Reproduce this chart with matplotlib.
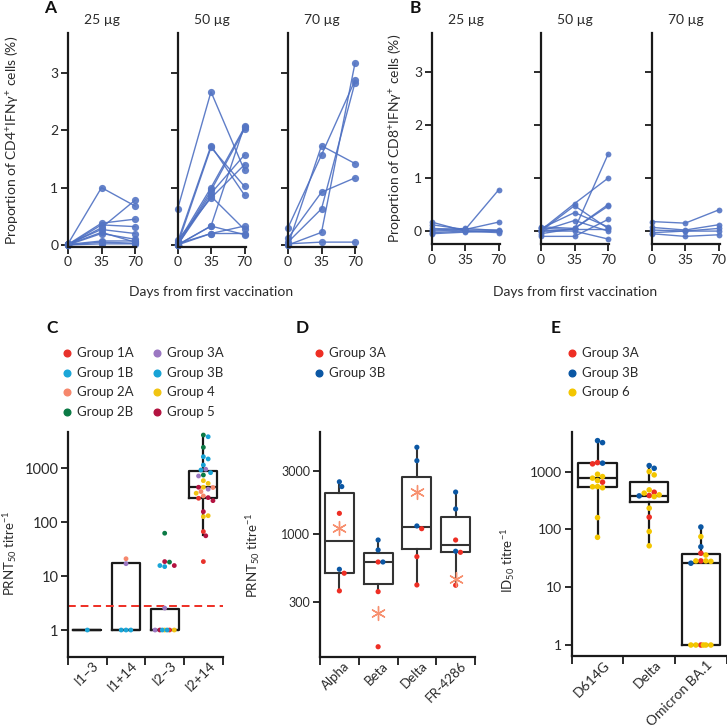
import numpy as np
import matplotlib
matplotlib.use('Agg')
import matplotlib.pyplot as plt
from matplotlib.lines import Line2D
from matplotlib.ticker import NullLocator, FixedLocator
import matplotlib.transforms as mtrans

plt.rcParams['font.family'] = ['Lato', 'DejaVu Sans']
plt.rcParams['mathtext.default'] = 'regular'

# ---------------- data ----------------
days = [0, 35, 70]
doses = ['25 µg', '50 µg', '70 µg']

# Panel A: CD4+ IFNg+ (%) per participant (day 0, day 35, day 70)
cd4_25 = [(0.02, 1.00, 0.68), (0.00, 0.30, 0.78), (0.01, 0.38, 0.45), (0.00, 0.35, 0.32),
          (0.02, 0.27, 0.20), (0.00, 0.20, 0.10), (0.01, 0.07, 0.07), (0.00, 0.05, 0.03),
          (0.00, 0.02, 0.02), (0.01, 0.22, 0.05)]
cd4_50 = [(0.62, 2.67, 1.30), (0.05, 1.73, 0.87), (0.00, 1.70, 1.02), (0.03, 1.00, 2.05),
          (0.00, 0.95, 2.02), (0.00, 0.90, 1.57), (0.00, 0.85, 0.27), (0.08, 0.82, 1.40),
          (0.00, 0.33, 2.08), (0.00, 0.20, 0.33), (0.02, 0.20, 0.20), (0.00, 0.33, 0.18)]
cd4_70 = [(0.30, 1.57, 2.87), (0.00, 1.73, 1.42), (0.12, 0.92, 1.17), (0.05, 0.63, 2.83),
          (0.00, 0.22, 3.17), (0.02, 0.05, 0.05)]

# Panel B: CD8+ IFNg+ (%)
cd8_25 = [(0.17, 0.00, 0.00), (0.12, 0.03, 0.78), (0.05, 0.03, 0.17), (0.00, 0.02, 0.02),
          (-0.03, 0.00, -0.03), (-0.05, -0.02, 0.00), (0.02, 0.05, 0.01)]
cd8_50 = [(0.02, 0.52, 1.00), (0.00, 0.48, 0.05), (0.05, 0.35, 0.08), (0.00, 0.20, 0.00),
          (0.00, 0.03, 1.45), (-0.05, 0.05, 0.47), (0.08, 0.05, 0.50), (-0.10, -0.10, 0.22),
          (0.00, 0.00, -0.15), (0.05, 0.03, 0.03)]
cd8_70 = [(0.18, 0.15, 0.40), (0.07, 0.02, 0.12), (0.02, 0.00, 0.05), (-0.03, 0.00, 0.00),
          (-0.05, -0.10, -0.07)]

# Panel C: PRNT50 titres
c_categories = ['I1–3', 'I1+14', 'I2–3', 'I2+14']
c_i1m3 = [1]
c_i1m3_grp = ['1B']
c_i1p14 = [21, 17, 1, 1, 1]
c_i1p14_grp = ['2A', '3A', '1B', '1B', '3B']
c_i2m3 = [62.5, 18.2, 18.6, 15.7, 15, 15.7, 2.55, 1, 1, 1, 1, 1, 1, 1]
c_i2m3_grp = ['2B', '2B', '5', '1B', '3B', '5', '3A', '4', '1A', '5', '4', '3A', '3B', '1B']
c_i2p14 = [4140, 3850, 2450, 1640, 1490, 1150, 960, 930, 830, 720, 750, 590, 525, 445, 445,
           440, 410, 370, 345, 307, 286, 278, 251, 157, 132, 127, 67, 56, 18.6]
c_i2p14_grp = ['2B', '3B', '2B', '3B', '3B', '3B', '3A', '3B', '3B', '3A', '2B', '4', '4', '4', '5',
               '2A', '3A', '2A', '4', '2A', '5', '1A', '5', '5', '4', '4', '1A', '5', '1A']
c_q1 = [1, 1, 1, 278]
c_med = [1, 1, 1, 445]
c_q3 = [1, 17.3, 2.48, 903]
c_whislo = [1, 1, 1, 58]
c_whishi = [1, 17.3, 2.48, 4100]
c_lod = 2.8
c_groups = ['Group 1A', 'Group 1B', 'Group 2A', 'Group 2B',
            'Group 3A', 'Group 3B', 'Group 4', 'Group 5']

# Panel D: PRNT50 titres against variants
d_categories = ['Alpha', 'Beta', 'Delta', 'FR-4286']
d_3a = [[1430, 499, 366], [608, 361, 137], [1092, 668, 406], [895, 721, 404]]
d_3b = [[2490, 2290, 535], [895, 751, 608], [4570, 3610, 1146], [2080, 1545, 735]]
d_star = [1100, 247, 2090, 449]
d_q1 = [505, 413, 760, 725]
d_med = [880, 608, 1125, 817]
d_q3 = [2040, 716, 2720, 1350]
d_whislo = [366, 361, 406, 404]
d_whishi = [2490, 895, 4570, 2080]

# Panel E: ID50 titres
e_categories = ['D614G', 'Delta', 'Omicron BA.1']
e_3a = [[1430, 1360, 656], [440, 385, 163], [38.7, 28.5, 1]]
e_3b = [[3430, 3170, 1400], [1270, 1140, 380], [110, 50, 26]]
e_6 = [[900, 820, 770, 700, 550, 525, 547, 160, 73],
       [1000, 877, 483, 396, 370, 424, 233, 92, 52],
       [75, 36, 28.5, 28, 28.5, 1, 1, 1, 1, 1]]
e_q1 = [550, 295, 1]
e_med = [790, 385, 26.7]
e_q3 = [1400, 656, 38]
e_whislo = [73, 52, 1]
e_whishi = [3430, 1270, 110]

# ---------------- styles ----------------
grp_colors = {'1A': '#e8322b', '1B': '#1aa6d8', '2A': '#f6876c', '2B': '#0b7a45',
              '3A': '#9b77c2', '3B': '#17a3d6', '4': '#f1c412', '5': '#b31340'}
red = '#ee2e24'
blue = '#0b57a4'
yellow = '#f3c600'
star_c = '#f7906f'
line_blue = '#4e70c2'
BLK = '#1a1a1a'
TXT = '#2a2a2a'
plt.rcParams['text.color'] = TXT
plt.rcParams['xtick.labelcolor'] = TXT
plt.rcParams['ytick.labelcolor'] = TXT

W, H = 727, 728
fig = plt.figure(figsize=(W / 100, H / 100), dpi=100)


def px_axes(l, t, r, b):
    return fig.add_axes([l / W, 1 - b / H, (r - l) / W, (b - t) / H])


def ftext(x, y, s, **kw):
    fig.text(x / W, 1 - y / H, s, **kw)


def style_spines(ax, lw=1.6):
    for s in ['top', 'right']:
        ax.spines[s].set_visible(False)
    for s in ['left', 'bottom']:
        ax.spines[s].set_linewidth(lw)
        ax.spines[s].set_color(BLK)


# ---------------- Panels A & B ----------------
def spaghetti(lefts, top, bottom, ylim, datasets, ms):
    axes = []
    for i, (l, data) in enumerate(zip(lefts, datasets)):
        ax = px_axes(l, top, l + 67 * 71.5 / 70, bottom)
        for subj in data:
            ax.plot(days, subj, color=line_blue, lw=1.0, alpha=0.9, zorder=2,
                    marker='o', ms=ms, mfc=(0.33, 0.46, 0.77, 0.75), mec='none', clip_on=False)
        ax.set_xlim(0, 71.5)
        ax.set_ylim(*ylim)
        ax.set_xticks(days)
        ax.set_yticks([0, 1, 2, 3])
        style_spines(ax)
        ax.tick_params(axis='both', length=5, width=1.3, color=BLK, labelsize=10, pad=2)
        if i > 0:
            ax.set_yticklabels([])
        ax.set_title(doses[i], fontsize=10, pad=7)
        ax.patch.set_alpha(0)
        axes.append(ax)
    return axes


spaghetti([68, 177.5, 288], 33.3, 246.7, (-0.03, 3.69), [cd4_25, cd4_50, cd4_70], 5.2)
spaghetti([431.7, 541, 651.7], 33.3, 244.3, (-0.25, 3.74), [cd8_25, cd8_50, cd8_70], 4.2)

ftext(12, 140, 'Proportion of CD4$^{+}$IFNγ$^{+}$ cells (%)', rotation=90,
      ha='center', va='center', fontsize=10)
ftext(395, 138, 'Proportion of CD8$^{+}$IFNγ$^{+}$ cells (%)', rotation=90,
      ha='center', va='center', fontsize=10)
ftext(211.5, 292, 'Days from first vaccination', ha='center', va='center', fontsize=10)
ftext(575, 292, 'Days from first vaccination', ha='center', va='center', fontsize=10)


# ---------------- swarm helper ----------------
def swarm_x(ax, xc, vals, diam, maxhalf):
    vals = np.asarray(vals, dtype=float)
    pts = ax.transData.transform(np.column_stack([np.full(len(vals), xc), vals]))
    ys = pts[:, 1]
    order = np.argsort(-ys, kind='stable')
    step = diam / 2.0
    cands = [0.0]
    k = 1
    while k * step <= maxhalf:
        cands += [k * step, -k * step]
        k += 1
    placed = []
    offs = np.zeros(len(vals))
    for i in order:
        best, bestd = 0.0, -1
        for c in cands:
            dmin = min((np.hypot(c - px, ys[i] - py) for px, py in placed), default=1e9)
            if dmin >= diam:
                best = c
                break
            if dmin > bestd:
                bestd, best = dmin, c
        placed.append((best, ys[i]))
        offs[i] = best
    p0 = ax.transData.transform([(0, 1)])[0, 0]
    p1 = ax.transData.transform([(1, 1)])[0, 0]
    return xc + offs / (p1 - p0)


def box_axes(ax, ncat, stats, widths, lw=1.6, color=BLK):
    bs = []
    for q1, med, q3, lo, hi in zip(*stats):
        bs.append(dict(q1=q1, med=med, q3=q3, whislo=lo, whishi=hi, fliers=[]))
    ax.bxp(bs, positions=range(ncat), widths=widths, showcaps=False, showfliers=False,
           boxprops=dict(color=color, lw=lw), medianprops=dict(color=color, lw=lw),
           whiskerprops=dict(color=color, lw=lw), manage_ticks=False, zorder=1)


def cat_axis(ax, labels, fs, dx, dy):
    n = len(labels)
    ax.set_xlim(-0.5, n - 0.5)
    ax.xaxis.set_major_locator(FixedLocator(range(n)))
    ax.set_xticklabels(labels, fontsize=fs)
    ax.xaxis.set_minor_locator(FixedLocator(np.arange(-0.5, n, 1.0)))
    ax.tick_params(axis='x', which='major', length=0, pad=2)
    ax.tick_params(axis='x', which='minor', length=6, width=1.3, color=BLK)
    off = mtrans.ScaledTranslation(dx / 72, dy / 72, fig.dpi_scale_trans)
    for lab in ax.get_xticklabels():
        lab.set_rotation(45)
        lab.set_ha('right')
        lab.set_va('center')
        lab.set_rotation_mode('anchor')
        lab.set_transform(lab.get_transform() + off)


def log_axis(ax, ylim, ticks, fs):
    ax.set_yscale('log')
    ax.set_ylim(*ylim)
    ax.yaxis.set_major_locator(FixedLocator(ticks))
    ax.set_yticklabels([str(t) for t in ticks], fontsize=fs)
    ax.yaxis.set_minor_locator(NullLocator())
    ax.tick_params(axis='y', length=5, width=1.3, color=BLK, pad=2)


# ---------------- Panel C ----------------
axC = px_axes(68, 431.7, 222.7, 656.7)
style_spines(axC)
log_axis(axC, (10 ** -0.495, 10 ** 3.679), [1, 10, 100, 1000], 10.5)
cat_axis(axC, c_categories, 10, 7, -3)
box_axes(axC, 4, (c_q1, c_med, c_q3, c_whislo, c_whishi), 0.72)
axC.axhline(c_lod, color='#ee2e24', lw=1.4, ls=(0, (4, 2.5)), zorder=2)
for i, (vals, grps) in enumerate([(c_i1m3, c_i1m3_grp), (c_i1p14, c_i1p14_grp),
                                  (c_i2m3, c_i2m3_grp), (c_i2p14, c_i2p14_grp)]):
    xs = swarm_x(axC, i, vals, 4.8, 10)
    axC.scatter(xs, vals, s=12, c=[grp_colors[g] for g in grps], edgecolors='none',
                zorder=3, clip_on=False)
ftext(10, 553, 'PRNT$_{50}$ titre$^{-1}$', rotation=90, ha='center', va='center', fontsize=9.5)

# legend C
leg_keys = ['1A', '1B', '2A', '2B', '3A', '3B', '4', '5']
for j, (k, name) in enumerate(zip(leg_keys, c_groups)):
    col, row = divmod(j, 4)
    mx = [67, 157][col]
    my = [353.3, 372.7, 392.3, 411.7][row]
    fig.add_artist(Line2D([mx / W], [1 - my / H], marker='o', ms=4.8, color=grp_colors[k],
                          ls='none', transform=fig.transFigure))
    ftext(mx + 10, my, name, ha='left', va='center', fontsize=9.5)

# ---------------- Panel D ----------------
axD = px_axes(320, 431.7, 475, 656.7)
style_spines(axD)
log_axis(axD, (115, 6010), [300, 1000, 3000], 9)
cat_axis(axD, d_categories, 9.5, 6, -3)
box_axes(axD, 4, (d_q1, d_med, d_q3, d_whislo, d_whishi), 0.75, lw=1.5, color='#333333')
for i in range(4):
    vals = d_3a[i] + d_3b[i]
    cols = [red] * len(d_3a[i]) + [blue] * len(d_3b[i])
    xs = swarm_x(axD, i, vals, 4.8, 10)
    axD.scatter(xs, vals, s=14, c=cols, edgecolors='none', zorder=3, clip_on=False)
axD.scatter(range(4), d_star, marker=(6, 2, 0), s=100, color=star_c, lw=1.0, zorder=4)
ftext(253, 555, 'PRNT$_{50}$ titre$^{-1}$', rotation=90, ha='center', va='center', fontsize=9.5)
for j, (name, c) in enumerate([('Group 3A', red), ('Group 3B', blue)]):
    my = [353.3, 372.7][j]
    fig.add_artist(Line2D([319 / W], [1 - my / H], marker='o', ms=4.8, color=c,
                          ls='none', transform=fig.transFigure))
    ftext(329, my, name, ha='left', va='center', fontsize=9.5)

# ---------------- Panel E ----------------
axE = px_axes(571.7, 431.7, 726.7, 656)
style_spines(axE)
log_axis(axE, (10 ** -0.19, 10 ** 3.69), [1, 10, 100, 1000], 10)
cat_axis(axE, e_categories, 10, 7, -3)
box_axes(axE, 3, (e_q1, e_med, e_q3, e_whislo, e_whishi), 0.74)
for i in range(3):
    vals = e_3a[i] + e_3b[i] + e_6[i]
    cols = [red] * len(e_3a[i]) + [blue] * len(e_3b[i]) + [yellow] * len(e_6[i])
    xs = swarm_x(axE, i, vals, 5.0, 12)
    axE.scatter(xs, vals, s=16, c=cols, edgecolors='none', zorder=3, clip_on=False)
ftext(508, 560, 'ID$_{50}$ titre$^{-1}$', rotation=90, ha='center', va='center', fontsize=9.5)
for j, (name, c) in enumerate([('Group 3A', red), ('Group 3B', blue), ('Group 6', yellow)]):
    my = [353.3, 372.7, 391.7][j]
    fig.add_artist(Line2D([571.7 / W], [1 - my / H], marker='o', ms=4.8, color=c,
                          ls='none', transform=fig.transFigure))
    ftext(581.7, my, name, ha='left', va='center', fontsize=9.5)

# panel letters
for letter, x, y in [('A', 50, 8), ('B', 415, 8), ('C', 52, 328), ('D', 302, 328), ('E', 556, 328)]:
    ftext(x, y, letter, ha='center', va='center', fontsize=12.5, fontweight='bold', color='#111111')

fig.savefig('out.png', dpi=100)
